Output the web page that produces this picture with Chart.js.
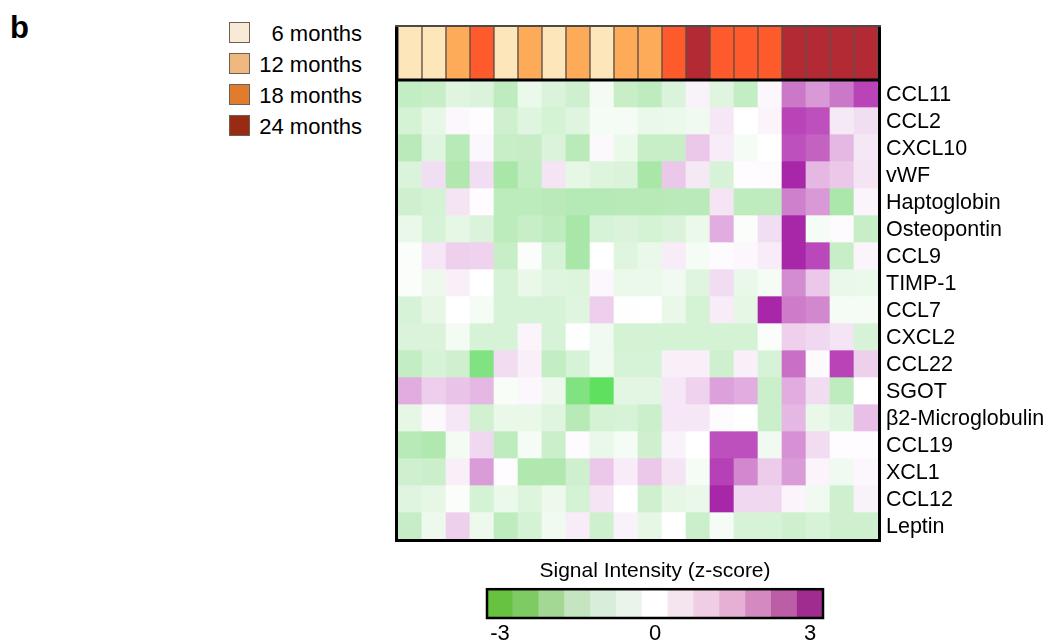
<!DOCTYPE html>
<html>
<head>
<meta charset="utf-8">
<script src="https://cdn.jsdelivr.net/npm/chart.js@4.4.1/dist/chart.umd.min.js"></script>
<style>
    body { margin: 0; background: #fff; width: 1048px; height: 644px; position: relative; overflow: hidden;
           font-family: 'Liberation Sans', Arial, sans-serif; }
    #heatmap { position: absolute; left: 0; top: 0; }
    #colorbar { position: absolute; left: 470px; top: 555px; }
    .panel-letter { position: absolute; left: 10px; top: 10px; font-size: 31px; font-weight: bold; }
    .age-legend { position: absolute; left: 229px; top: 22px; }
    .age-item { position: relative; height: 21px; margin-bottom: 10px; width: 133px; }
    .age-box { position: absolute; left: 0; top: 0; width: 19px; height: 19px; border: 1px solid #6d5f55; }
    .age-text { position: absolute; right: 0; top: -1px; font-size: 22px; line-height: 25px; color: #000; white-space: nowrap; }
</style>
</head>
<body>
<div class="panel-letter">b</div>
<div class="age-legend" id="age-legend"></div>
<canvas id="heatmap" width="1048" height="560"></canvas>
<canvas id="colorbar" width="370" height="89"></canvas>
<script>
// Muestras (columnas) y grupo de edad de cada una
const sampleIds = ['S1', 'S2', 'S3', 'S4', 'S5', 'S6', 'S7', 'S8', 'S9', 'S10',
                   'S11', 'S12', 'S13', 'S14', 'S15', 'S16', 'S17', 'S18', 'S19', 'S20'];
const sampleAges = [6, 6, 12, 18, 6, 12, 6, 12, 6, 12, 12, 18, 24, 18, 18, 18, 24, 24, 24, 24];

// Grupos de edad de la leyenda
const ageGroups = [6, 12, 18, 24];
const ageLabels = ['6 months', '12 months', '18 months', '24 months'];

// Analitos (filas, de arriba abajo)
const analytes = ['CCL11', 'CCL2', 'CXCL10', 'vWF', 'Haptoglobin', 'Osteopontin', 'CCL9', 'TIMP-1',
                  'CCL7', 'CXCL2', 'CCL22', 'SGOT', 'β2-Microglobulin', 'CCL19', 'XCL1', 'CCL12', 'Leptin'];

// z-scores por analito
const ccl11 = [-1.1, -1.0, -0.6, -0.7, -1.2, -0.4, -0.7, -0.9, -0.25, -1.0, -1.2, -0.7, 0.25, -0.6, -1.1, 0.15, 2.0, 1.6, 2.0, 2.6];
const ccl2 = [-0.8, -0.5, 0.15, 0.05, -0.9, -0.6, -0.8, -0.6, -0.2, -0.2, -0.45, -0.4, -0.3, 0.45, 0, 0.2, 2.6, 2.45, 0.4, 0.6];
const cxcl10 = [-1.3, -0.6, -1.35, 0.15, -1.0, -1.05, -0.7, -1.3, 0.12, -0.4, -1.0, -1.0, 1.0, 0.35, -0.2, 0, 2.45, 2.25, 1.2, 0.45];
const vwf = [-0.7, 0.6, -1.5, 0.6, -1.65, -1.1, 0.5, -0.5, -0.65, -0.7, -1.65, 1.0, 0.4, -0.75, 0.05, 0.08, 3.0, 1.2, 1.0, 0.5];
const haptoglobin = [-0.9, -0.8, 0.5, 0.05, -1.25, -1.25, -1.3, -1.4, -1.4, -1.35, -1.35, -1.3, -1.3, 0.5, -1.2, -1.2, 1.9, 1.6, -1.6, 0.2];
const osteopontin = [-0.45, -0.75, -0.5, -0.7, -1.25, -1.0, -1.2, -1.65, -0.75, -0.7, -0.8, -0.7, -0.4, 1.35, -0.1, 0.6, 3.0, -0.2, 0.08, -1.0];
const ccl9 = [-0.1, 0.45, 0.85, 0.8, -1.0, -0.1, -0.75, -1.65, 0, -0.6, -0.45, 0.35, -0.2, 0.08, 0.15, 0.35, 3.0, 2.55, -1.0, 0.2];
const timp1 = [-0.1, -0.35, 0.3, 0, -0.75, -0.45, -0.6, -0.65, 0.15, -0.4, -0.4, -0.3, -0.6, 0.65, -0.45, -0.2, 1.75, 1.0, -0.45, -0.4];
const ccl7 = [-0.75, -0.5, 0, -0.2, -0.75, -0.75, -0.75, -0.6, 0.9, -0.05, 0, -0.45, -0.8, 0.35, -0.5, 3.0, 1.95, 1.8, -0.2, -0.2];
const cxcl2 = [-0.7, -0.7, -0.25, -0.75, -0.75, 0.2, -0.75, -0.05, -0.3, -0.8, -0.8, -0.8, -0.8, -0.8, -0.8, -0.1, 0.85, 0.7, 0.5, -0.75];
const ccl22 = [-1.1, -0.75, -0.9, -2.3, 0.65, 0.3, -1.1, -0.75, -0.3, -0.75, -0.75, 0.3, 0.3, -0.9, 0.3, -0.75, 2.1, 0.1, 2.6, 0.85];
const sgot = [1.35, 0.9, 1.05, 1.2, -0.15, 0.15, -0.35, -2.3, -2.9, -0.55, -0.55, 0.45, 0.8, 1.5, 1.35, -0.95, 1.35, 0.65, -1.2, 0];
const b2m = [-0.5, 0.12, 0.45, -0.85, -0.45, -0.45, -0.6, -1.35, -0.8, -0.75, -0.95, 0.45, 0.45, 0.08, 0, -0.95, 1.2, -0.45, -0.6, 1.1];
const ccl19 = [-1.35, -1.5, -0.25, 0.7, -1.2, -0.2, -0.95, 0.08, -0.45, -0.2, -0.9, 0.25, 0, 2.45, 2.45, -0.3, 1.7, 0.65, 0.05, 0.05];
const xcl1 = [-0.9, -0.95, 0.3, 1.55, 0.05, -1.5, -1.5, -0.9, 1.0, 0.35, 1.0, 0.5, -0.2, 2.65, 1.8, 0.95, 1.55, 0.2, -0.3, 0.15];
const ccl12 = [-0.6, -0.5, -0.1, -0.8, -0.4, -0.65, -0.35, -0.8, 0.5, 0, -0.9, -0.5, -0.45, 3.0, 0.7, 0.7, 0.2, -0.3, -0.9, 0.25];
const leptin = [-1.05, -0.35, 0.85, -0.35, -1.2, -0.8, -0.3, 0.35, -0.9, 0.25, -0.5, 0, -0.95, -0.2, -0.75, -0.75, -0.9, -0.75, -0.9, -0.9];

const zRows = [ccl11, ccl2, cxcl10, vwf, haptoglobin, osteopontin, ccl9, timp1,
               ccl7, cxcl2, ccl22, sgot, b2m, ccl19, xcl1, ccl12, leptin];

// Barra de color: pasos y etiquetas
const colorbarSteps = [-3, -2.5, -2, -1.5, -1, -0.5, 0, 0.5, 1, 1.5, 2, 2.5, 3];
const colorbarTicks = [-3, 0, 3];

// Colores
const annotationColors = { 6: '#fde6b9', 12: '#fdab58', 18: '#fe5a2c', 24: '#b32a35' };
const legendColors = { 6: '#f8ead7', 12: '#eeb87e', 18: '#e07c2b', 24: '#992b14' };
const colorbarColors = ['#67c240', '#7ecb64', '#a2d794', '#c5e5c0', '#d9eddb', '#ebf4ea', '#ffffff',
                        '#f5e5ef', '#efcde2', '#e6b0d4', '#d48ac0', '#bc5ea6', '#a02c90'];
const heatStops = [
    [-3, [90, 224, 90]], [-2.5, [115, 224, 115]], [-2, [150, 228, 150]], [-1.5, [176, 232, 176]],
    [-1, [200, 238, 200]], [-0.5, [230, 247, 230]], [0, [255, 255, 255]], [0.5, [244, 228, 244]],
    [1, [235, 200, 234]], [1.5, [220, 160, 218]], [2, [204, 120, 200]], [2.5, [188, 76, 188]], [3, [168, 38, 168]]
];

Chart.defaults.font.family = "'Liberation Sans', Arial, sans-serif";
Chart.defaults.color = '#000';

function heatColor(z) {
    const v = Math.max(-3, Math.min(3, z));
    for (let i = 0; i < heatStops.length - 1; i++) {
        const [a, ca] = heatStops[i];
        const [b, cb] = heatStops[i + 1];
        if (v <= b) {
            const t = (v - a) / (b - a);
            const c = ca.map((k, j) => Math.round(k + (cb[j] - k) * t));
            return `rgb(${c[0]},${c[1]},${c[2]})`;
        }
    }
    return 'rgb(168,38,168)';
}

// Leyenda de edades
function initLegend() {
    const container = document.getElementById('age-legend');
    ageGroups.forEach((age, i) => {
        const item = document.createElement('div');
        item.className = 'age-item';
        const box = document.createElement('div');
        box.className = 'age-box';
        box.style.background = legendColors[age];
        const text = document.createElement('div');
        text.className = 'age-text';
        text.textContent = ageLabels[i];
        item.appendChild(box);
        item.appendChild(text);
        container.appendChild(item);
    });
}

// Bordes negros del mapa de calor
const heatmapFrame = {
    id: 'heatmapFrame',
    afterDatasetsDraw(chart) {
        const { ctx, chartArea: a, scales } = chart;
        const sep = scales.y.getPixelForValue(analytes.length);
        ctx.save();
        ctx.strokeStyle = '#000';
        ctx.lineWidth = 3;
        ctx.beginPath();
        ctx.moveTo(a.left - 1.5, a.top);
        ctx.lineTo(a.left - 1.5, a.bottom + 3);
        ctx.moveTo(a.right + 1.5, a.top);
        ctx.lineTo(a.right + 1.5, a.bottom + 3);
        ctx.moveTo(a.left - 3, a.bottom + 1.5);
        ctx.lineTo(a.right + 3, a.bottom + 1.5);
        ctx.moveTo(a.left, sep);
        ctx.lineTo(a.right + 3, sep);
        ctx.stroke();
        ctx.strokeStyle = '#4a4a4a';
        ctx.lineWidth = 2;
        ctx.beginPath();
        ctx.moveTo(a.left - 3, a.top);
        ctx.lineTo(a.right + 3, a.top);
        ctx.stroke();
        ctx.restore();
    }
};

const colorbarFrame = {
    id: 'colorbarFrame',
    afterDatasetsDraw(chart) {
        const { ctx, chartArea: a } = chart;
        ctx.save();
        ctx.strokeStyle = '#000';
        ctx.lineWidth = 2.5;
        ctx.strokeRect(a.left, a.top, a.right - a.left, a.bottom - a.top);
        ctx.restore();
    }
};

function initHeatmap() {
    const n = analytes.length;
    const datasets = zRows.map((row, i) => ({
        label: analytes[i],
        data: row.map((z, j) => ({ x: sampleIds[j], y: [n - 1 - i, n - i], z: z })),
        backgroundColor: ctx => heatColor(ctx.raw.z),
        borderWidth: 0
    }));
    datasets.push({
        label: 'Age',
        data: sampleAges.map((age, j) => ({ x: sampleIds[j], y: [n, n + 2], age: age })),
        backgroundColor: ctx => annotationColors[ctx.raw.age],
        borderColor: 'rgba(80,60,50,0.9)',
        borderWidth: 1,
        borderSkipped: false
    });

    new Chart(document.getElementById('heatmap'), {
        type: 'bar',
        data: { labels: sampleIds, datasets: datasets },
        options: {
            responsive: false,
            animation: false,
            grouped: false,
            barPercentage: 1,
            categoryPercentage: 1,
            layout: { padding: { left: 398, top: 26, bottom: 21, right: 0 } },
            plugins: { legend: { display: false }, tooltip: { enabled: false } },
            scales: {
                x: { type: 'category', display: false },
                y: {
                    type: 'linear',
                    position: 'right',
                    min: 0,
                    max: n + 2,
                    grid: { display: false, drawTicks: false },
                    border: { display: false },
                    // etiquetas un poco por debajo del centro de la fila, como en el original
                    afterBuildTicks: scale => {
                        scale.ticks = analytes.map((_, i) => ({ value: n - 0.56 - i }));
                    },
                    afterFit: scale => { scale.width = 170; },
                    ticks: {
                        autoSkip: false,
                        padding: 8,
                        font: { size: 21.5 },
                        color: '#000',
                        callback: value => analytes[Math.round(n - 0.56 - value)]
                    }
                }
            }
        },
        plugins: [heatmapFrame]
    });
}

function initColorbar() {
    new Chart(document.getElementById('colorbar'), {
        type: 'bar',
        data: {
            labels: colorbarSteps,
            datasets: [{
                data: colorbarSteps.map(() => 1),
                backgroundColor: colorbarColors,
                borderWidth: 0
            }]
        },
        options: {
            responsive: false,
            animation: false,
            barPercentage: 1,
            categoryPercentage: 1,
            layout: { padding: { left: 17, right: 17, top: 0, bottom: 0 } },
            plugins: {
                legend: { display: false },
                tooltip: { enabled: false },
                title: {
                    display: true,
                    text: 'Signal Intensity (z-score)',
                    color: '#000',
                    font: { size: 21, weight: 'normal' },
                    padding: { top: 4, bottom: 5 }
                }
            },
            scales: {
                x: {
                    grid: { display: false, drawTicks: false },
                    border: { display: false },
                    afterFit: scale => { scale.height = 26; },
                    ticks: {
                        autoSkip: false,
                        maxRotation: 0,
                        padding: 3,
                        font: { size: 22 },
                        color: '#000',
                        callback: (value, index) => colorbarTicks.includes(colorbarSteps[index]) ? String(colorbarSteps[index]) : ''
                    }
                },
                y: { display: false, min: 0, max: 1 }
            }
        },
        plugins: [colorbarFrame]
    });
}

document.addEventListener('DOMContentLoaded', () => {
    initLegend();
    initHeatmap();
    initColorbar();
});
</script>
</body>
</html>
